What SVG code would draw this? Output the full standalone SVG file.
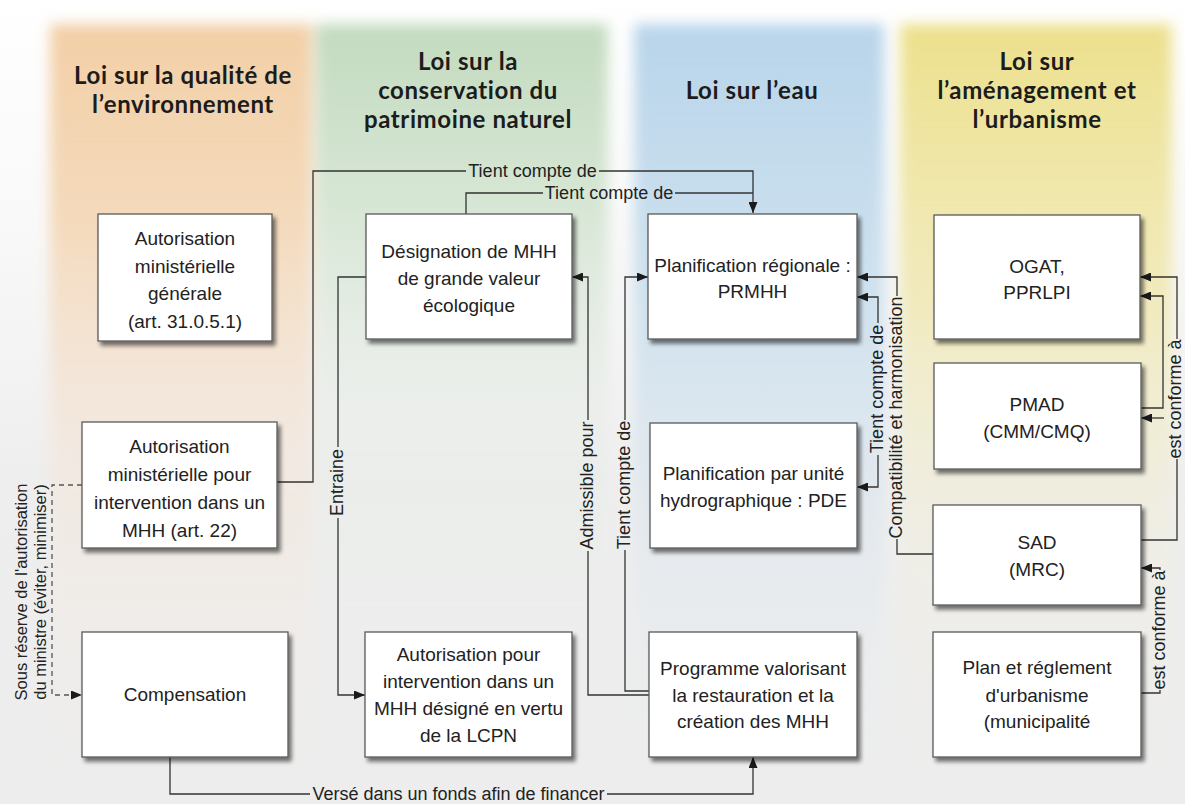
<svg xmlns="http://www.w3.org/2000/svg" width="1185" height="804" viewBox="0 0 1185 804">
<defs>
<style>
.hd{font-family:Lato,"Open Sans","Liberation Sans",sans-serif;font-weight:700;font-size:24px;letter-spacing:0.6px;fill:#1c1c1c;text-anchor:middle}
.bx{fill:#ffffff;stroke:#5a5a5a;stroke-width:1.3}
.bt{font-family:"Liberation Sans",Arial,sans-serif;font-size:19px;fill:#222;text-anchor:middle}
.lb{font-family:"Liberation Sans",Arial,sans-serif;font-size:18px;fill:#222;text-anchor:middle}
.ln{fill:none;stroke:#333;stroke-width:1.3}
.dash{fill:none;stroke:#555;stroke-width:1.3;stroke-dasharray:5 4}
</style>
<marker id="ah" markerUnits="userSpaceOnUse" markerWidth="11" markerHeight="9" refX="11" refY="4.5" orient="auto">
<path d="M0,0 L11,4.5 L0,9 z" fill="#1a1a1a"/>
</marker>
<filter id="sh" x="-10%" y="-10%" width="130%" height="130%">
<feGaussianBlur in="SourceAlpha" stdDeviation="2.2"/>
<feOffset dx="3" dy="3.5" result="o"/>
<feComponentTransfer in="o" result="o2"><feFuncA type="linear" slope="0.55"/></feComponentTransfer>
<feMerge><feMergeNode in="o2"/><feMergeNode in="SourceGraphic"/></feMerge>
</filter>
<filter id="soft" x="-10%" y="-5%" width="120%" height="110%">
<feGaussianBlur stdDeviation="7"/>
</filter>
<linearGradient id="gBase" x1="0" y1="0" x2="0" y2="1">
<stop offset="0" stop-color="#ffffff"/>
<stop offset="0.3" stop-color="#f8f8f8"/>
<stop offset="0.6" stop-color="#eeeeee"/>
<stop offset="1" stop-color="#ededed"/>
</linearGradient>
<linearGradient id="gO" x1="0" y1="0" x2="0" y2="1">
<stop offset="0" stop-color="#f2cfa6" stop-opacity="1"/>
<stop offset="0.25" stop-color="#f3d4b0" stop-opacity="0.85"/>
<stop offset="0.55" stop-color="#f4e2d2" stop-opacity="0.5"/>
<stop offset="1" stop-color="#eeeeee" stop-opacity="0.2"/>
</linearGradient>
<linearGradient id="gG" x1="0" y1="0" x2="0" y2="1">
<stop offset="0" stop-color="#c2dabe" stop-opacity="1"/>
<stop offset="0.22" stop-color="#c9dfc6" stop-opacity="0.75"/>
<stop offset="0.5" stop-color="#e4ebe4" stop-opacity="0.45"/>
<stop offset="1" stop-color="#eeeeee" stop-opacity="0.2"/>
</linearGradient>
<linearGradient id="gB" x1="0" y1="0" x2="0" y2="1">
<stop offset="0" stop-color="#b8d4ea" stop-opacity="1"/>
<stop offset="0.35" stop-color="#c4dcec" stop-opacity="0.8"/>
<stop offset="0.7" stop-color="#dfe7ee" stop-opacity="0.5"/>
<stop offset="1" stop-color="#eeeeee" stop-opacity="0.3"/>
</linearGradient>
<linearGradient id="gY" x1="0" y1="0" x2="0" y2="1">
<stop offset="0" stop-color="#ece08c" stop-opacity="1"/>
<stop offset="0.35" stop-color="#f0e7ad" stop-opacity="0.8"/>
<stop offset="0.7" stop-color="#f1eedd" stop-opacity="0.4"/>
<stop offset="1" stop-color="#eeeeee" stop-opacity="0.2"/>
</linearGradient>
</defs>

<rect x="0" y="0" width="1185" height="804" fill="url(#gBase)"/>
<g id="background" filter="url(#soft)">
<rect x="50" y="24" width="262" height="775" fill="url(#gO)"/>
<rect x="316" y="24" width="292" height="775" fill="url(#gG)"/>
<rect x="634" y="24" width="250" height="775" fill="url(#gB)"/>
<rect x="900" y="24" width="272" height="775" fill="url(#gY)"/>
</g>

<g id="headers">
<text class="hd" x="183" y="84">Loi sur la qualité de</text>
<text class="hd" x="183" y="113">l’environnement</text>
<text class="hd" x="468" y="70">Loi sur la</text>
<text class="hd" x="468" y="99">conservation du</text>
<text class="hd" x="468" y="128">patrimoine naturel</text>
<text class="hd" x="752" y="99">Loi sur l’eau</text>
<text class="hd" x="1037" y="70">Loi sur</text>
<text class="hd" x="1037" y="99">l’aménagement et</text>
<text class="hd" x="1037" y="128">l’urbanisme</text>
</g>

<g id="connectors">
<path class="ln" d="M277,482 H313 V171 H466"/>
<path class="ln" d="M599,171 H753 V213" marker-end="url(#ah)"/>
<text class="lb" x="532.5" y="176.5">Tient compte de</text>
<path class="ln" d="M466,214 V193 H543"/>
<path class="ln" d="M675,193 H753"/>
<text class="lb" x="609" y="198.5">Tient compte de</text>

<path class="ln" d="M366,277 H338 V447"/>
<path class="ln" d="M338,518 V695 H365" marker-end="url(#ah)"/>
<text class="lb" transform="translate(342.5,482.5) rotate(-90)">Entraine</text>

<path class="ln" d="M649,695 H588 V551"/>
<path class="ln" d="M588,420 V277 H572" marker-end="url(#ah)"/>
<text class="lb" transform="translate(592.5,485.5) rotate(-90)">Admissible pour</text>

<path class="ln" d="M649,691 H625 V550"/>
<path class="ln" d="M625,420 V277 H648" marker-end="url(#ah)"/>
<text class="lb" transform="translate(629.5,485) rotate(-90)">Tient compte de</text>

<path class="ln" d="M933,554 H897 V539"/>
<path class="ln" d="M897,296 V277 H857" marker-end="url(#ah)"/>
<text class="lb" transform="translate(901.5,417.5) rotate(-90)">Compatibilité et harmonisation</text>

<path class="ln" d="M878,323 V297 H857" marker-end="url(#ah)"/>
<path class="ln" d="M878,455 V487 H857" marker-end="url(#ah)"/>
<text class="lb" transform="translate(882.5,389) rotate(-90)">Tient compte de</text>

<path class="ln" d="M1141,540 H1177 V459"/>
<path class="ln" d="M1177,339 V277 H1140" marker-end="url(#ah)"/>
<path class="ln" d="M1164,418 H1141" marker-end="url(#ah)"/>
<text class="lb" transform="translate(1180.5,399) rotate(-90)">est conforme à</text>
<path class="ln" d="M1141,408 H1163 V296 H1140" marker-end="url(#ah)"/>

<path class="ln" d="M1141,693 H1160 V690"/>
<path class="ln" d="M1160,570 V568 H1141" marker-end="url(#ah)"/>
<text class="lb" transform="translate(1164.5,630) rotate(-90)">est conforme à</text>

<path class="dash" d="M82,485 H52 V695 H82" marker-end="url(#ah)"/>
<text class="lb" style="font-size:16.5px" transform="translate(27,592) rotate(-90)">Sous réserve de l'autorisation</text>
<text class="lb" style="font-size:16.5px" transform="translate(46,592) rotate(-90)">du ministre (éviter, minimiser)</text>

<path class="ln" d="M170,757 V794 H310"/>
<path class="ln" d="M607,794 H753 V757" marker-end="url(#ah)"/>
<text class="lb" x="458.5" y="799.5">Versé dans un fonds afin de financer</text>
</g>

<g id="n-aut-generale">
<rect class="bx" x="98" y="214" width="174" height="127" filter="url(#sh)"/>
<text class="bt" x="185" y="245">Autorisation</text>
<text class="bt" x="185" y="272.5">ministérielle</text>
<text class="bt" x="185" y="300">générale</text>
<text class="bt" x="185" y="327.5">(art. 31.0.5.1)</text>
</g>
<g id="n-aut-art22">
<rect class="bx" x="82" y="422" width="195" height="126" filter="url(#sh)"/>
<text class="bt" x="179.5" y="453">Autorisation</text>
<text class="bt" x="179.5" y="481">ministérielle pour</text>
<text class="bt" x="179.5" y="509">intervention dans un</text>
<text class="bt" x="179.5" y="537">MHH (art. 22)</text>
</g>
<g id="n-compensation">
<rect class="bx" x="82" y="632" width="206" height="125" filter="url(#sh)"/>
<text class="bt" x="185" y="701">Compensation</text>
</g>
<g id="n-designation">
<rect class="bx" x="366" y="214" width="206" height="125" filter="url(#sh)"/>
<text class="bt" x="469" y="258">Désignation de MHH</text>
<text class="bt" x="469" y="285">de grande valeur</text>
<text class="bt" x="469" y="312">écologique</text>
</g>
<g id="n-aut-lcpn">
<rect class="bx" x="365" y="632" width="207" height="125" filter="url(#sh)"/>
<text class="bt" x="468.5" y="661">Autorisation pour</text>
<text class="bt" x="468.5" y="688">intervention dans un</text>
<text class="bt" x="468.5" y="715">MHH désigné en vertu</text>
<text class="bt" x="468.5" y="742">de la LCPN</text>
</g>
<g id="n-prmhh">
<rect class="bx" x="648" y="214" width="209" height="125" filter="url(#sh)"/>
<text class="bt" x="752.5" y="272">Planification régionale :</text>
<text class="bt" x="752.5" y="298">PRMHH</text>
</g>
<g id="n-pde">
<rect class="bx" x="650" y="423" width="207" height="125" filter="url(#sh)"/>
<text class="bt" x="753.5" y="480">Planification par unité</text>
<text class="bt" x="753.5" y="507">hydrographique : PDE</text>
</g>
<g id="n-programme">
<rect class="bx" x="649" y="632" width="208" height="125" filter="url(#sh)"/>
<text class="bt" x="753" y="675">Programme valorisant</text>
<text class="bt" x="753" y="702">la restauration et la</text>
<text class="bt" x="753" y="728">création des MHH</text>
</g>
<g id="n-ogat">
<rect class="bx" x="934" y="215" width="206" height="124" filter="url(#sh)"/>
<text class="bt" x="1037" y="273">OGAT,</text>
<text class="bt" x="1037" y="299">PPRLPI</text>
</g>
<g id="n-pmad">
<rect class="bx" x="934" y="363" width="207" height="106" filter="url(#sh)"/>
<text class="bt" x="1037" y="411">PMAD</text>
<text class="bt" x="1037" y="438">(CMM/CMQ)</text>
</g>
<g id="n-sad">
<rect class="bx" x="933" y="505" width="208" height="100" filter="url(#sh)"/>
<text class="bt" x="1037" y="549">SAD</text>
<text class="bt" x="1037" y="576">(MRC)</text>
</g>
<g id="n-plan">
<rect class="bx" x="933" y="632" width="208" height="125" filter="url(#sh)"/>
<text class="bt" x="1037" y="674">Plan et réglement</text>
<text class="bt" x="1037" y="702">d'urbanisme</text>
<text class="bt" x="1037" y="728">(municipalité</text>
</g>
</svg>
